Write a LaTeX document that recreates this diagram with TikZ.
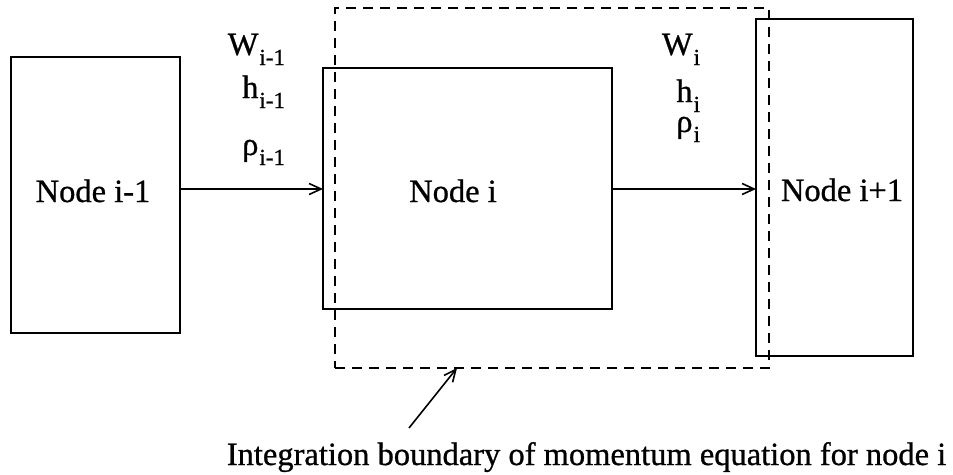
\documentclass[tikz,border=0pt]{standalone}
\usepackage{fontspec}
\setmainfont{Liberation Serif}[FakeBold=0.8,BoldFont={Liberation Serif}]
\usetikzlibrary{arrows.meta}
\newcommand{\mylab}[2]{#1\hspace{1pt}\raisebox{-10pt}{\fontsize{23}{23}\selectfont #2}}
\begin{document}
\begin{tikzpicture}[x=1pt,y=-1pt,
  boxnode/.style={draw,line width=1.8pt,inner sep=0pt,outer sep=0pt},
  txt/.style={inner sep=0pt,outer sep=0pt,font=\fontsize{32.5}{38}\selectfont\bfseries},
  lab/.style={txt,anchor=base east},
  arr/.style={line width=1.6pt,-{Straight Barb[length=12pt,width=11pt,line width=1.6pt]}},
  bound/.style={line width=1.6pt,dash pattern=on 10pt off 7pt}]
\useasboundingbox (0,0) rectangle (953,474);
% boxes
\node[boxnode,minimum width=169pt,minimum height=276pt] (n1) at (95.5,195) {};
\node[boxnode,minimum width=289pt,minimum height=241pt] (n2) at (467.5,188.5) {};
\node[boxnode,minimum width=157pt,minimum height=337pt] (n3) at (834.5,187.5) {};
% dashed boundary
\node[bound,draw,inner sep=0pt,outer sep=0pt,minimum width=434pt,minimum height=360pt] (bd) at (552,188) {};
% texts
\node[txt,anchor=base] (t1) at (93,202) {Node i-1};
\node[txt,anchor=base] (t2) at (453,202) {Node i};
\node[txt,anchor=base] (t3) at (842,201) {Node i+1};
% labels
\node[lab] (w1) at (285,55) {\mylab{W}{i-1}};
\node[lab] (h1) at (285,98) {\mylab{h}{i-1}};
\node[lab] (r1) at (285,155) {\mylab{ρ}{i-1}};
\node[lab] (w2) at (700,55) {\mylab{W}{i}};
\node[lab] (h2) at (700,102) {\mylab{h}{i}};
\node[lab] (r2) at (700,132) {\mylab{ρ}{i}};
% arrows
\draw[arr] (n1.east |- 0,189) -- (n2.west |- 0,189);
\draw[arr] (n2.east |- 0,189) -- (n3.west |- 0,189);
% caption
\node[txt,anchor=base] (cap) at (586.5,465) {Integration boundary of momentum equation for node i};
\coordinate (tail) at (409,428);
\draw[arr] (tail) -- (457,368);
\end{tikzpicture}
\end{document}
